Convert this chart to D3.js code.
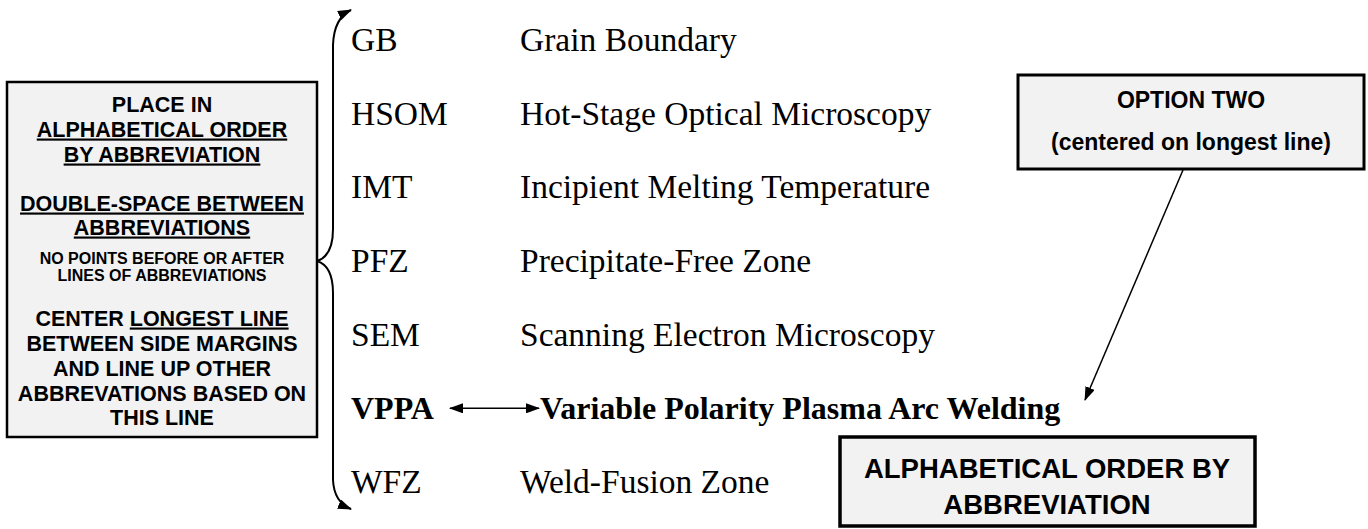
<!DOCTYPE html>
<html>
<head>
<meta charset="utf-8">
<script src="https://cdn.jsdelivr.net/npm/d3@7"></script>
<style>
  body { margin: 0; background: #fff; }
  svg { display: block; }
</style>
</head>
<body>
<div class="container"></div>
<script>
// abbreviation list (left column) and what they stand for
const abbrevs = ["GB", "HSOM", "IMT", "PFZ", "SEM", "VPPA", "WFZ"];
const meanings = [
  "Grain Boundary",
  "Hot-Stage Optical Microscopy",
  "Incipient Melting Temperature",
  "Precipitate-Free Zone",
  "Scanning Electron Microscopy",
  "Variable Polarity Plasma Arc Welding",
  "Weld-Fusion Zone"
];
const longestLine = "VPPA";

// notes in the left box: each line is a list of [text, underlined]
const noteLines = [
  [["PLACE IN", false]],
  [["ALPHABETICAL ORDER", true]],
  [["BY ABBREVIATION", true]],
  [["DOUBLE-SPACE BETWEEN", true]],
  [["ABBREVIATIONS", true]],
  [["CENTER ", false], ["LONGEST LINE", true]],
  [["BETWEEN SIDE MARGINS", false]],
  [["AND LINE UP OTHER", false]],
  [["ABBREVATIONS BASED ON", false]],
  [["THIS LINE", false]]
];
const smallLines = ["NO POINTS BEFORE OR AFTER", "LINES OF ABBREVIATIONS"];
const optionLines = ["OPTION TWO", "(centered on longest line)"];
const bottomLines = ["ALPHABETICAL ORDER BY", "ABBREVIATION"];

const width = 1368;
const height = 529;

const svg = d3.select(".container")
  .append("svg")
  .attr("width", width)
  .attr("height", height);

// arrow head
svg.append("defs").append("marker")
  .attr("id", "arrow")
  .attr("viewBox", "0 0 14 10")
  .attr("refX", 13)
  .attr("refY", 5)
  .attr("markerWidth", 14)
  .attr("markerHeight", 10)
  .attr("markerUnits", "userSpaceOnUse")
  .attr("orient", "auto-start-reverse")
  .append("path")
  .attr("d", "M0,0 L14,5 L0,10 Z")
  .attr("fill", "#000");

// rows of the list
const y = d3.scalePoint()
  .domain(abbrevs)
  .range([40, 482]);

const rows = svg.append("g")
  .style("font-family", "'Liberation Serif', 'Times New Roman', serif");

rows.selectAll("text.abbr")
  .data(abbrevs)
  .enter()
  .append("text")
  .attr("class", "abbr")
  .attr("x", 351)
  .attr("y", d => y(d) + 11)
  .style("font-size", d => d === longestLine ? "32px" : "33.5px")
  .attr("font-weight", d => d === longestLine ? "bold" : "normal")
  .text(d => d);

rows.selectAll("text.def")
  .data(meanings)
  .enter()
  .append("text")
  .attr("class", "def")
  .attr("x", (d, i) => abbrevs[i] === longestLine ? 540 : 520)
  .attr("y", (d, i) => y(abbrevs[i]) + 11)
  .style("font-size", (d, i) => abbrevs[i] === longestLine ? "32px" : "33.5px")
  .attr("font-weight", (d, i) => abbrevs[i] === longestLine ? "bold" : "normal")
  .text(d => d);

// double arrow between VPPA and its meaning
svg.append("line")
  .attr("x1", 450).attr("x2", 539)
  .attr("y1", y(longestLine)).attr("y2", y(longestLine))
  .attr("stroke", "#000")
  .attr("stroke-width", 1.5)
  .attr("marker-start", "url(#arrow)")
  .attr("marker-end", "url(#arrow)");

// curly brace with arrows at both ends
const mid = y("PFZ");
const bracePath = d3.path();
bracePath.moveTo(351, 10);
bracePath.quadraticCurveTo(334, 18, 333, 45);
bracePath.lineTo(333, mid - 32);
bracePath.quadraticCurveTo(333, mid - 5, 317, mid);
bracePath.quadraticCurveTo(333, mid + 5, 333, mid + 32);
bracePath.lineTo(333, 480);
bracePath.quadraticCurveTo(334, 502, 351, 509);

svg.append("path")
  .attr("d", bracePath.toString())
  .attr("fill", "none")
  .attr("stroke", "#000")
  .attr("stroke-width", 2)
  .attr("marker-start", "url(#arrow)")
  .attr("marker-end", "url(#arrow)");

// left note box
svg.append("rect")
  .attr("x", 7).attr("y", 82)
  .attr("width", 310).attr("height", 355)
  .attr("fill", "#f2f2f2")
  .attr("stroke", "#000")
  .attr("stroke-width", 2.5);

const noteY = [104, 129, 154, 203, 227, 318, 343, 368, 393, 417];
const notes = svg.append("g")
  .style("font-family", "'Liberation Sans', Arial, sans-serif")
  .style("font-weight", "bold")
  .attr("text-anchor", "middle");

noteLines.forEach((line, i) => {
  const t = notes.append("text")
    .attr("x", 162)
    .attr("y", noteY[i] + 7.5)
    .style("font-size", "21.5px");
  line.forEach(seg => {
    t.append("tspan")
      .style("text-decoration", seg[1] ? "underline" : "none")
      .text(seg[0]);
  });
});

notes.selectAll("text.small")
  .data(smallLines)
  .enter()
  .append("text")
  .attr("class", "small")
  .attr("x", 162)
  .attr("y", (d, i) => 258 + i * 17 + 5.5)
  .style("font-size", "16px")
  .text(d => d);

// option two box
svg.append("rect")
  .attr("x", 1018).attr("y", 75)
  .attr("width", 346).attr("height", 94)
  .attr("fill", "#f2f2f2")
  .attr("stroke", "#000")
  .attr("stroke-width", 3);

svg.selectAll("text.option")
  .data(optionLines)
  .enter()
  .append("text")
  .attr("class", "option")
  .attr("x", 1191)
  .attr("y", (d, i) => 108 + i * 42)
  .attr("text-anchor", "middle")
  .style("font-family", "'Liberation Sans', Arial, sans-serif")
  .style("font-weight", "bold")
  .style("font-size", "23px")
  .text(d => d);

// pointer from the option box to the longest line
svg.append("line")
  .attr("x1", 1183).attr("y1", 170)
  .attr("x2", 1085).attr("y2", 400)
  .attr("stroke", "#000")
  .attr("stroke-width", 1.5)
  .attr("marker-end", "url(#arrow)");

// bottom box
svg.append("rect")
  .attr("x", 840).attr("y", 437)
  .attr("width", 415).attr("height", 89)
  .attr("fill", "#f2f2f2")
  .attr("stroke", "#000")
  .attr("stroke-width", 3.5);

svg.selectAll("text.bottom")
  .data(bottomLines)
  .enter()
  .append("text")
  .attr("class", "bottom")
  .attr("x", 1047)
  .attr("y", (d, i) => 478 + i * 36)
  .attr("text-anchor", "middle")
  .style("font-family", "'Liberation Sans', Arial, sans-serif")
  .style("font-weight", "bold")
  .style("font-size", "27.5px")
  .text(d => d);
</script>
</body>
</html>
